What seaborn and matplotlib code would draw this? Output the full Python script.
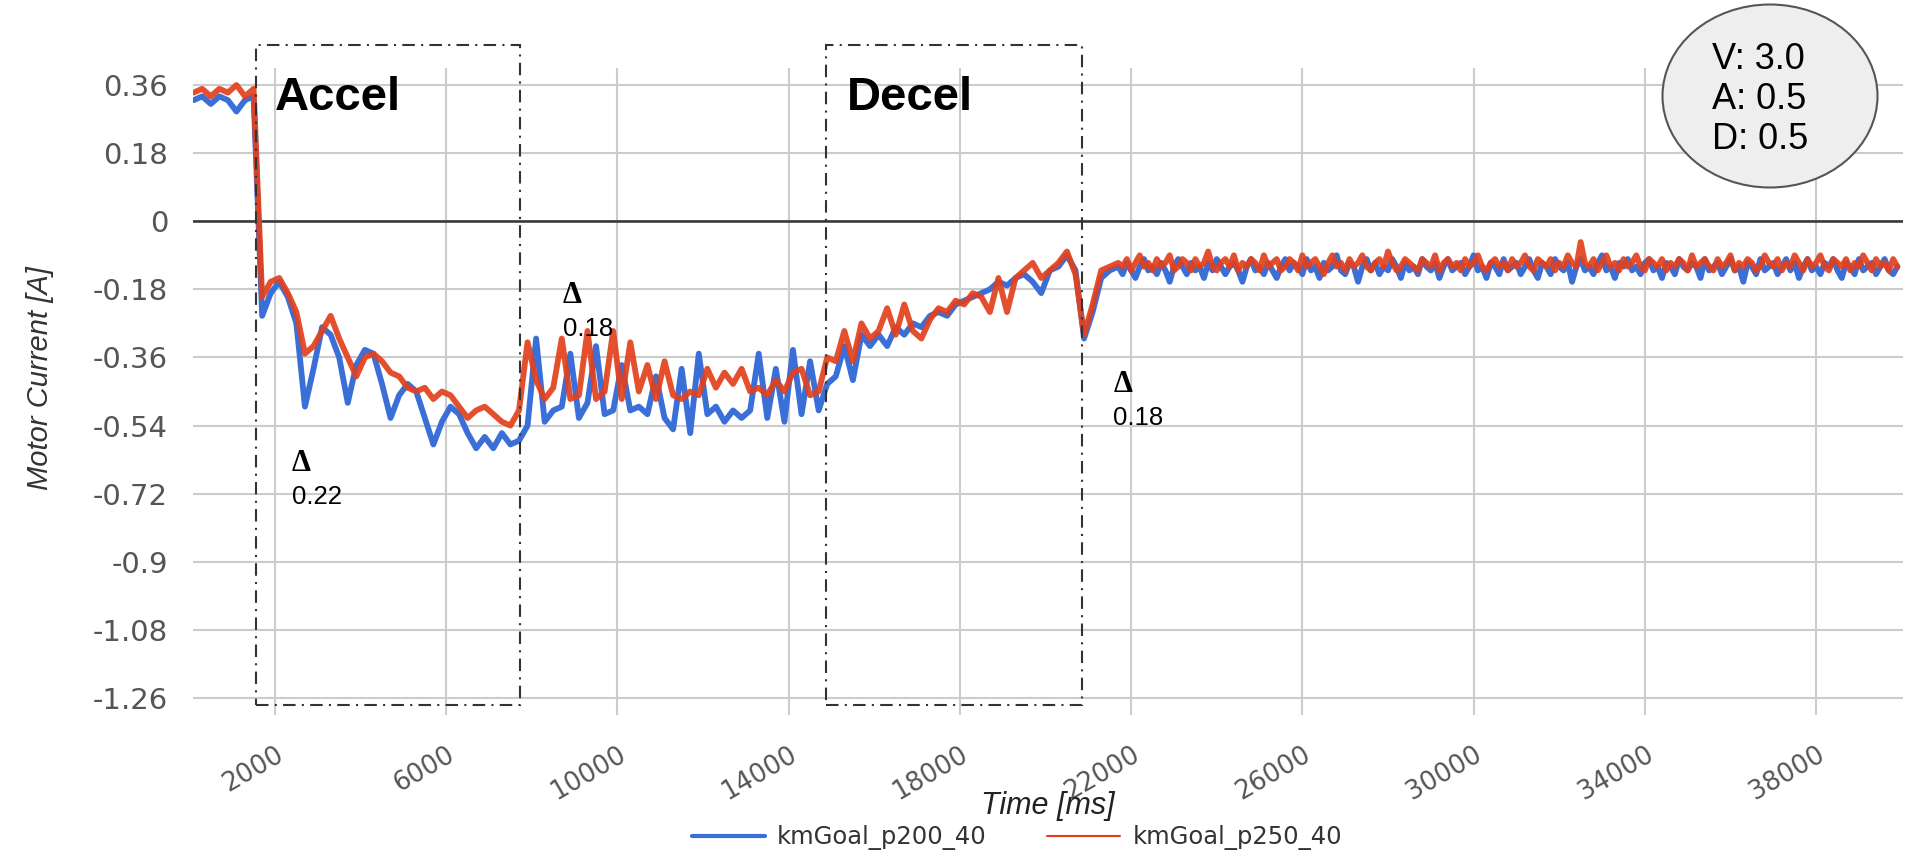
import numpy as np
import pandas as pd
import seaborn as sns
import matplotlib.pyplot as plt
from matplotlib.patches import Rectangle, Ellipse
from matplotlib.lines import Line2D

# sample times (ms): every 200 ms through the move, every 100 ms while holding
time_run = np.arange(100, 21600, 200)
time_hold = np.arange(21700, 40000, 100)

# motor current [A]
p200_run = [0.32, 0.33, 0.31, 0.33, 0.32, 0.29, 0.32, 0.33, -0.25, -0.19,
            -0.16, -0.20, -0.27, -0.49, -0.39, -0.28, -0.30, -0.36, -0.48, -0.38,
            -0.34, -0.35, -0.43, -0.52, -0.46, -0.43, -0.45, -0.52, -0.59, -0.53,
            -0.49, -0.51, -0.56, -0.60, -0.57, -0.60, -0.56, -0.59, -0.58, -0.54,
            -0.31, -0.53, -0.50, -0.49, -0.35, -0.52, -0.48, -0.33, -0.51, -0.50,
            -0.38, -0.50, -0.49, -0.51, -0.41, -0.52, -0.55, -0.39, -0.56, -0.35,
            -0.51, -0.49, -0.53, -0.50, -0.52, -0.50, -0.35, -0.52, -0.39, -0.53,
            -0.34, -0.51, -0.37, -0.50, -0.43, -0.41, -0.33, -0.42, -0.30, -0.33,
            -0.30, -0.33, -0.28, -0.30, -0.27, -0.28, -0.25, -0.24, -0.25, -0.22,
            -0.21, -0.20, -0.19, -0.18, -0.16, -0.17, -0.15, -0.14, -0.16, -0.19,
            -0.13, -0.12, -0.09, -0.13, -0.31, -0.24, -0.15, -0.13]
p200_hold = [-0.12, -0.14, -0.11, -0.13, -0.15, -0.12, -0.10, -0.13, -0.12, -0.14,
             -0.11, -0.13, -0.16, -0.12, -0.10, -0.12, -0.14, -0.11, -0.13, -0.12,
             -0.15, -0.11, -0.13, -0.10, -0.12, -0.14, -0.12, -0.11, -0.13, -0.16,
             -0.12, -0.10, -0.13, -0.12, -0.14, -0.11, -0.13, -0.15, -0.12, -0.10,
             -0.13, -0.11, -0.12, -0.14, -0.10, -0.13, -0.12, -0.15, -0.11, -0.13,
             -0.12, -0.09, -0.13, -0.14, -0.11, -0.12, -0.16, -0.12, -0.10, -0.13,
             -0.11, -0.14, -0.12, -0.13, -0.10, -0.12, -0.15, -0.11, -0.13, -0.12,
             -0.14, -0.10, -0.12, -0.13, -0.11, -0.15, -0.12, -0.10, -0.13, -0.12,
             -0.11, -0.14, -0.12, -0.09, -0.13, -0.12, -0.15, -0.11, -0.12, -0.14,
             -0.10, -0.13, -0.12, -0.11, -0.14, -0.12, -0.10, -0.13, -0.15, -0.11,
             -0.12, -0.14, -0.10, -0.12, -0.13, -0.11, -0.16, -0.12, -0.10, -0.13,
             -0.12, -0.14, -0.11, -0.09, -0.13, -0.12, -0.15, -0.11, -0.12, -0.10,
             -0.13, -0.12, -0.14, -0.11, -0.10, -0.13, -0.12, -0.15, -0.11, -0.12,
             -0.14, -0.10, -0.12, -0.13, -0.11, -0.12, -0.15, -0.10, -0.13, -0.12,
             -0.11, -0.14, -0.12, -0.10, -0.13, -0.12, -0.16, -0.11, -0.12, -0.14,
             -0.10, -0.13, -0.12, -0.11, -0.14, -0.12, -0.10, -0.13, -0.11, -0.15,
             -0.12, -0.10, -0.13, -0.12, -0.14, -0.11, -0.12, -0.10, -0.13, -0.15,
             -0.11, -0.12, -0.14, -0.10, -0.13, -0.12, -0.11, -0.14, -0.12, -0.10,
             -0.13, -0.14, -0.12]

p250_run = [0.34, 0.35, 0.33, 0.35, 0.34, 0.36, 0.33, 0.35, -0.20, -0.16,
            -0.15, -0.19, -0.24, -0.35, -0.33, -0.29, -0.25, -0.31, -0.36, -0.41,
            -0.36, -0.35, -0.37, -0.40, -0.41, -0.44, -0.45, -0.44, -0.47, -0.45,
            -0.46, -0.49, -0.52, -0.50, -0.49, -0.51, -0.53, -0.54, -0.50, -0.32,
            -0.42, -0.47, -0.44, -0.31, -0.47, -0.46, -0.29, -0.47, -0.45, -0.29,
            -0.47, -0.32, -0.45, -0.38, -0.47, -0.37, -0.46, -0.47, -0.45, -0.46,
            -0.39, -0.44, -0.40, -0.43, -0.39, -0.45, -0.44, -0.46, -0.42, -0.45,
            -0.40, -0.39, -0.46, -0.45, -0.36, -0.37, -0.29, -0.37, -0.27, -0.31,
            -0.29, -0.23, -0.30, -0.22, -0.29, -0.31, -0.26, -0.23, -0.24, -0.21,
            -0.22, -0.19, -0.20, -0.24, -0.15, -0.24, -0.15, -0.13, -0.11, -0.15,
            -0.13, -0.11, -0.08, -0.14, -0.30, -0.22, -0.13, -0.12]
p250_hold = [-0.11, -0.12, -0.10, -0.13, -0.11, -0.09, -0.12, -0.11, -0.13, -0.10,
             -0.12, -0.11, -0.09, -0.13, -0.12, -0.10, -0.11, -0.13, -0.10, -0.12,
             -0.11, -0.08, -0.12, -0.13, -0.11, -0.10, -0.12, -0.09, -0.13, -0.11,
             -0.12, -0.10, -0.11, -0.13, -0.09, -0.12, -0.11, -0.10, -0.13, -0.12,
             -0.10, -0.11, -0.13, -0.09, -0.12, -0.11, -0.10, -0.12, -0.14, -0.11,
             -0.09, -0.12, -0.11, -0.13, -0.10, -0.12, -0.11, -0.09, -0.12, -0.13,
             -0.11, -0.10, -0.12, -0.08, -0.11, -0.13, -0.12, -0.10, -0.11, -0.12,
             -0.13, -0.10, -0.11, -0.12, -0.09, -0.13, -0.11, -0.10, -0.12, -0.11,
             -0.13, -0.10, -0.12, -0.11, -0.09, -0.12, -0.13, -0.11, -0.10, -0.12,
             -0.11, -0.13, -0.10, -0.12, -0.11, -0.09, -0.12, -0.13, -0.10, -0.11,
             -0.12, -0.10, -0.13, -0.11, -0.12, -0.09, -0.11, -0.12, -0.055, -0.11,
             -0.12, -0.10, -0.13, -0.11, -0.09, -0.12, -0.11, -0.13, -0.10, -0.12,
             -0.11, -0.09, -0.12, -0.13, -0.10, -0.11, -0.12, -0.10, -0.13, -0.11,
             -0.12, -0.10, -0.11, -0.13, -0.09, -0.12, -0.11, -0.10, -0.12, -0.13,
             -0.10, -0.12, -0.11, -0.09, -0.13, -0.11, -0.12, -0.10, -0.11, -0.13,
             -0.12, -0.09, -0.11, -0.12, -0.10, -0.13, -0.11, -0.12, -0.09, -0.11,
             -0.13, -0.10, -0.12, -0.11, -0.09, -0.12, -0.13, -0.10, -0.11, -0.12,
             -0.10, -0.13, -0.11, -0.12, -0.09, -0.11, -0.13, -0.10, -0.12, -0.11,
             -0.13, -0.10, -0.12]

series_names = ['kmGoal_p200_40', 'kmGoal_p250_40']
colors = ['#3a6fd8', '#e2401c']

y_ticks = [0.36, 0.18, 0, -0.18, -0.36, -0.54, -0.72, -0.9, -1.08, -1.26]
y_tick_labels = ['0.36', '0.18', '0', '-0.18', '-0.36', '-0.54', '-0.72', '-0.9', '-1.08', '-1.26']
x_ticks = [2000, 6000, 10000, 14000, 18000, 22000, 26000, 30000, 34000, 38000]

# phase boxes (ms) and delta notes
accel_box = (1556, 7723)
decel_box = (14871, 20851)
deltas = [(2400, -0.660, '0.22'), (8730, -0.216, '0.18'), (21580, -0.451, '0.18')]
settings = 'V: 3.0\nA: 0.5\nD: 0.5'

time_ms = np.concatenate([time_run, time_hold])
p200 = p200_run + p200_hold
p250 = p250_run + p250_hold
df = pd.DataFrame({
    'Time': np.concatenate([time_ms, time_ms]),
    'Current': p200 + p250,
    'series': [series_names[0]] * len(p200) + [series_names[1]] * len(p250),
})

sns.set_theme(style='whitegrid')
plt.rcParams['font.family'] = ['Liberation Sans', 'DejaVu Sans']
plt.rcParams['axes.unicode_minus'] = False

W, H = 1905, 864
fig = plt.figure(figsize=(W / 100, H / 100), dpi=100)
ax = fig.add_axes([193 / W, 1 - 715 / H, 1710 / W, 647 / H])
ax.set_facecolor('white')

sns.lineplot(data=df, x='Time', y='Current', hue='series', palette=colors,
             linewidth=4.2, estimator=None, sort=False, ax=ax, legend=False)
ax.lines[1].set_alpha(0.92)

ax.axhline(0, color='#333333', lw=1.8, zorder=1)

ax.set_xlim(85, 40030)
ax.set_ylim(-1.305, 0.405)
ax.set_xticks(x_ticks, [str(t) for t in x_ticks])
ax.set_yticks(y_ticks, y_tick_labels)
ax.grid(True, color='#cccccc', lw=1.5)
for s in ax.spines.values():
    s.set_visible(False)

ax.tick_params(axis='y', length=0, pad=18, labelsize=21, labelcolor='#555555')
ax.tick_params(axis='x', length=0, pad=19, labelsize=18.5, labelcolor='#555555')
for lab in ax.get_yticklabels():
    lab.set_fontfamily('DejaVu Sans')
plt.setp(ax.get_xticklabels(), rotation=30, ha='right', va='top',
         rotation_mode='anchor', fontfamily='DejaVu Sans')

ax.set_ylabel('Motor Current [A]', fontsize=21, style='italic', color='#333333')
ax.yaxis.set_label_coords(-0.0895, 0.52)
ax.yaxis.label.set_verticalalignment('center')
ax.set_xlabel('Time [ms]', fontsize=22, style='italic', color='#222222')
ax.xaxis.set_label_coords(0.5, -0.141)
ax.xaxis.label.set_verticalalignment('center')

# dash-dot boxes round the accel and decel phases
for x0, x1 in [accel_box, decel_box]:
    ax.add_patch(Rectangle((x0, -1.2785), x1 - x0, 0.466 + 1.2785, fill=False,
                           ls=(0, (6, 3, 1, 3)), lw=1.5, ec='#333333',
                           clip_on=False, zorder=5))

ax.text(2000, 0.294, 'Accel', fontsize=34, fontweight='bold', color='black', va='baseline')
ax.text(15360, 0.294, 'Decel', fontsize=34, fontweight='bold', color='black', va='baseline')

for x, y, txt in deltas:
    ax.text(x, y, '\u0394', fontsize=22, fontweight='bold', family='Liberation Serif',
            va='baseline', color='black')
    ax.text(x, y - 0.087, txt, fontsize=18.5, va='baseline', color='black')

# settings bubble in the top-right corner
fig.add_artist(Ellipse((1770 / W, 1 - 96 / H), 215 / W, 183 / H,
                       transform=fig.transFigure, fc='#eeeeee', ec='#555555', lw=1.5))
fig.text(1712 / W, 1 - 99.5 / H, settings, fontsize=26, ha='left', va='center',
         linespacing=1.2, color='black')

handles = [Line2D([], [], color=colors[0], lw=3),
           Line2D([], [], color=colors[1], lw=1.5)]
fig.legend(handles, series_names, loc='center', bbox_to_anchor=(1017 / W, 1 - 838 / H),
           ncol=2, frameon=False, handlelength=3.0, handletextpad=0.5,
           columnspacing=2.5, labelcolor='#333333', prop={'family': 'DejaVu Sans', 'size': 17.5})

plt.savefig('out.png', dpi=100)
